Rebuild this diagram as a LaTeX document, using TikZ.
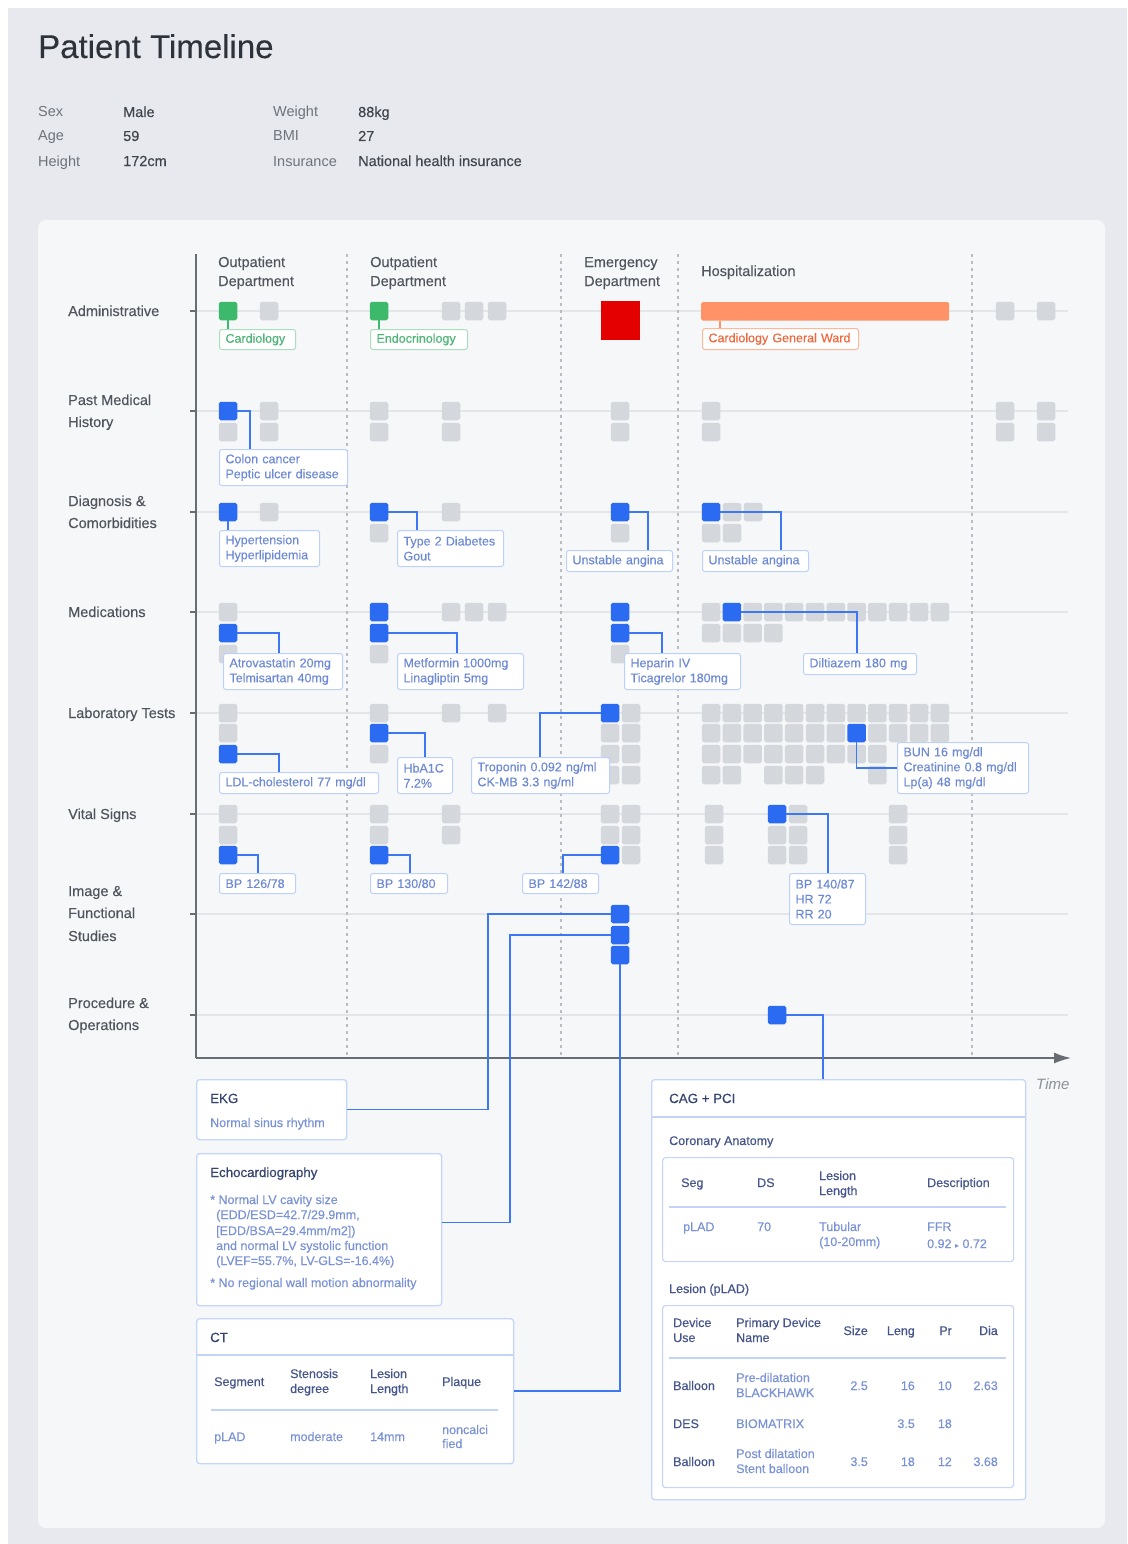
\documentclass[tikz,border=0pt]{standalone}
\usepackage{fontspec}
\setmainfont{Liberation Sans}
\newfontfamily\dejavu{DejaVu Sans}
\newfontfamily\medfont[FakeBold=0.45]{Liberation Sans}
\newfontfamily\semifont[FakeBold=0.25]{Liberation Sans}
\usetikzlibrary{arrows.meta}
\definecolor{outerbg}{HTML}{E8E9EE}
\definecolor{panelbg}{HTML}{F6F7F9}
\definecolor{titlec}{HTML}{2E333B}
\definecolor{demol}{HTML}{6E737B}
\definecolor{demov}{HTML}{40454D}
\definecolor{rowc}{HTML}{50555D}
\definecolor{gridc}{HTML}{E3E5E9}
\definecolor{dashc}{HTML}{B9BCC2}
\definecolor{axisc}{HTML}{686C73}
\definecolor{graysq}{HTML}{D4D7DC}
\definecolor{bluesq}{HTML}{2A6BF2}
\definecolor{connc}{HTML}{3D77F2}
\definecolor{lbltext}{HTML}{6E89D6}
\definecolor{lblborder}{HTML}{BCD0FB}
\definecolor{greensq}{HTML}{3CB96B}
\definecolor{greentext}{HTML}{4DB476}
\definecolor{greenborder}{HTML}{A9DEBE}
\definecolor{redsq}{HTML}{E50000}
\definecolor{orangebar}{HTML}{FF9367}
\definecolor{orangetext}{HTML}{F0683E}
\definecolor{orangeborder}{HTML}{FFB797}
\definecolor{cardborder}{HTML}{C5D5FA}
\definecolor{navyc}{HTML}{36456F}
\definecolor{headc}{HTML}{46568C}
\definecolor{valc}{HTML}{7A92D6}
\definecolor{sepc}{HTML}{C3D3F8}
\definecolor{timec}{HTML}{8B8F96}

\newcommand{\fs}[2]{\fontsize{#1}{#2}\selectfont}

\tikzset{
  txt/.style={anchor=base west, inner sep=0pt},
  rowlab/.style={font=\semifont\fs{14.5}{17}, text=rowc},
  demolab/.style={font=\fs{14.5}{17}, text=demol},
  demoval/.style={font=\semifont\fs{14.5}{17}, text=demov},
  cardtitle/.style={font=\medfont\fs{13.3}{16}, text=navyc},
  head/.style={font=\medfont\fs{12.5}{15}, text=headc},
  val/.style={font=\semifont\fs{12.5}{15}, text=valc},
  bsq/.style={fill=bluesq, minimum size=18.5pt, inner sep=0pt, rounded corners=1.8pt},
  gsqn/.style={fill=greensq, minimum size=18.5pt, inner sep=0pt, rounded corners=1.8pt},
  conn/.style={draw=connc, line width=1.6pt},
  lbl/.style={draw=lblborder, fill=white, line width=1pt, rounded corners=2.5pt, text=lbltext,
    font=\semifont\fs{12.5}{15}, align=left, inner xsep=6pt, inner ysep=0pt, anchor=north west},
  card/.style={draw=cardborder, fill=white, line width=1.3pt, rounded corners=3pt,
    anchor=north west, inner sep=0pt},
  sepline/.style={draw=sepc, line width=1.2pt},
}

\newcommand{\T}[5][]{\node[txt,#1] (#2) at (#3,#4) {#5};}
\newcommand{\lb}[7][]{\pgfmathsetmacro\lbw{#5-12}\node[lbl,#1,text width=\lbw pt, minimum height=#6pt] (#2) at (#3,#4) {#7};}
\newcommand{\gs}[2]{\fill[graysq, rounded corners=1.8pt] ({#1-9.25},{#2-9.25}) rectangle ++(18.5,18.5);}

\begin{document}
\begin{tikzpicture}[x=1pt,y=-1pt]
\useasboundingbox (0,0) rectangle (1127,1544);
\fill[white] (0,0) rectangle (1127,1544);
\fill[outerbg] (8,8) rectangle (1127,1544);
\fill[panelbg, rounded corners=8pt] (38,220) rectangle (1105,1528);

% header
\T[font=\semifont\fs{33}{38}, text=titlec]{title}{38}{58}{Patient Timeline}
\T[demolab]{dSex}{38}{117}{Sex}
\T[demolab]{dAge}{38}{141}{Age}
\T[demolab]{dHeight}{38}{166}{Height}
\T[demoval]{vSex}{123}{117}{Male}
\T[demoval]{vAge}{123}{141}{59}
\T[demoval]{vHeight}{123}{166}{172cm}
\T[demolab]{dWeight}{273}{117}{Weight}
\T[demolab]{dBMI}{273}{141}{BMI}
\T[demolab]{dIns}{273}{166}{Insurance}
\T[demoval]{vWeight}{358}{117}{88kg}
\T[demoval]{vBMI}{358}{141}{27}
\T[demoval]{vIns}{358}{166}{National health insurance}

% grid
\foreach \y in {311,411,512,612,713,814,914,1015} {
  \draw[gridc, line width=1.2pt] (196,\y) -- (1068,\y);
  \draw[axisc, line width=1.2pt] (190,\y) -- (196,\y);
}
\foreach \x in {347,561,678,972}
  \draw[dashc, line width=1.2pt, dash pattern=on 3pt off 4pt] (\x,254) -- (\x,1055);
\draw[axisc, line width=1.5pt] (196,254) -- (196,1058);
\draw[axisc, line width=1.5pt, -{Latex[length=17pt,width=11pt]}] (196,1058) -- (1071,1058);
\node[txt, font=\fs{15}{18}\itshape, text=timec] (timeL) at (1036,1089) {Time};

% row labels
\T[rowlab]{rAdm}{68}{316}{Administrative}
\T[rowlab]{rPmh1}{68}{405}{Past Medical}
\T[rowlab]{rPmh2}{68}{427}{History}
\T[rowlab]{rDx1}{68}{506}{Diagnosis \&}
\T[rowlab]{rDx2}{68}{528}{Comorbidities}
\T[rowlab]{rMed}{68}{617}{Medications}
\T[rowlab]{rLab}{68}{718}{Laboratory Tests}
\T[rowlab]{rVs}{68}{819}{Vital Signs}
\T[rowlab]{rImg1}{68}{896}{Image \&}
\T[rowlab]{rImg2}{68}{918}{Functional}
\T[rowlab]{rImg3}{68}{941}{Studies}
\T[rowlab]{rProc1}{68}{1008}{Procedure \&}
\T[rowlab]{rProc2}{68}{1030}{Operations}

% column headers
\T[rowlab]{c1a}{218}{267}{Outpatient}
\T[rowlab]{c1b}{218}{286}{Department}
\T[rowlab]{c2a}{370}{267}{Outpatient}
\T[rowlab]{c2b}{370}{286}{Department}
\T[rowlab]{c3a}{584}{267}{Emergency}
\T[rowlab]{c3b}{584}{286}{Department}
\T[rowlab]{c4}{701}{276}{Hospitalization}

% gray squares
\foreach \a/\b in {269/311,451/311,474/311,497/311,1005/311,1046/311,
  228/432,269/411,269/432,379/411,379/432,451/411,451/432,620/411,620/432,711/411,711/432,
  1005/411,1005/432,1046/411,1046/432,
  269/512,379/533,451/512,620/533,732/512,753/512,711/533,732/533,
  228/612,228/654,379/654,451/612,474/612,497/612,620/654,
  228/713,228/733,379/713,379/754,451/713,497/713,631/713,610/733,631/733,610/754,631/754,610/775,631/775,
  228/814,228/835,379/814,379/835,451/814,451/835,610/814,631/814,610/835,631/835,631/855,
  714/814,714/835,714/855,798/814,777/835,798/835,777/855,798/855,898/814,898/835,898/855}
  {\gs{\a}{\b}}
\foreach \i in {0,2,3,4,5,6,7,8,9,10,11} {\gs{711+20.8*\i}{612}}
\foreach \i in {0,1,2,3} {\gs{711+20.8*\i}{633}}
\foreach \i in {0,...,11} {\gs{711+20.8*\i}{713}}
\foreach \i in {0,1,2,3,4,5,6,8,9,10,11} {\gs{711+20.8*\i}{733}}
\foreach \i in {0,...,8} {\gs{711+20.8*\i}{754}}
\foreach \i in {0,1,3,4,5,8} {\gs{711+20.8*\i}{775}}

% administrative
\node[gsqn] (gA1) at (228,311) {};
\node[gsqn] (gA2) at (379,311) {};
\node[fill=redsq, minimum size=39pt, inner sep=0pt] (edR) at (620.5,320.5) {};
\node[fill=orangebar, minimum width=248pt, minimum height=18.5pt, inner sep=0pt, anchor=north west, rounded corners=1.5pt] (hbar) at (701,302) {};
\lb[draw=greenborder, text=greentext]{cardio}{219}{329}{76}{20}{Cardiology}
\lb[draw=greenborder, text=greentext]{endo}{370}{329}{97}{20}{Endocrinology}
\lb[draw=orangeborder, text=orangetext]{ward}{702}{328}{156}{21}{Cardiology General Ward}
\draw[greensq, line width=1.6pt] (gA1.south) -- (gA1.south |- cardio.north);
\draw[greensq, line width=1.6pt] (gA2.south) -- (gA2.south |- endo.north);
\draw[orangebar, line width=1.6pt] ([xshift=19pt]hbar.south west) -- ([xshift=18pt]ward.north west);

% blue squares
\node[bsq] (pmhB) at (228,411) {};
\node[bsq] (dxB1) at (228,512) {};
\node[bsq] (dxB2) at (379,512) {};
\node[bsq] (dxB3) at (620,512) {};
\node[bsq] (dxB4) at (711,512) {};
\node[bsq] (medB1) at (228,633) {};
\node[bsq] (medB2) at (379,612) {};
\node[bsq] (medB3) at (379,633) {};
\node[bsq] (medB4) at (620,612) {};
\node[bsq] (medB5) at (620,633) {};
\node[bsq] (medB6) at (731.8,612) {};
\node[bsq] (labB1) at (228,754) {};
\node[bsq] (labB2) at (379,733) {};
\node[bsq] (labB3) at (610,713) {};
\node[bsq] (labB4) at (856.6,733) {};
\node[bsq] (vsB1) at (228,855) {};
\node[bsq] (vsB2) at (379,855) {};
\node[bsq] (vsB3) at (610,855) {};
\node[bsq] (vsB4) at (777,814) {};
\node[bsq] (img1) at (620,914) {};
\node[bsq] (img2) at (620,935) {};
\node[bsq] (img3) at (620,955) {};
\node[bsq] (proc) at (777,1015) {};

% labels
\lb{pmh1}{219}{449}{128}{36}{Colon cancer\\Peptic ulcer disease}
\lb{dx1}{219}{530}{100}{36}{Hypertension\\Hyperlipidemia}
\lb{dx2}{397}{530}{106}{36}{Type 2 Diabetes\\Gout}
\lb{dx3}{566}{550}{106}{21}{Unstable angina}
\lb{dx4}{702}{550}{106}{21}{Unstable angina}
\lb{med1}{223}{653}{119}{36}{Atrovastatin 20mg\\Telmisartan 40mg}
\lb{med2}{397}{653}{126}{36}{Metformin 1000mg\\Linagliptin 5mg}
\lb{med3}{624}{653}{116}{36}{Heparin IV\\Ticagrelor 180mg}
\lb{med4}{803}{653}{113}{21}{Diltiazem 180 mg}
\lb{lab1}{219}{772}{159}{21}{LDL-cholesterol 77 mg/dl}
\lb{lab2}{397}{757}{55}{36}{HbA1C\\7.2\%}
\lb{lab3}{471}{757}{138}{36}{Troponin 0.092 ng/ml\\CK-MB 3.3 ng/ml}
\lb{lab4}{897}{742}{131}{51}{BUN 16 mg/dl\\Creatinine 0.8 mg/dl\\Lp(a) 48 mg/dl}
\lb{vs1}{219}{873}{76}{20}{BP 126/78}
\lb{vs2}{370}{873}{77}{20}{BP 130/80}
\lb{vs3}{522}{873}{76}{20}{BP 142/88}
\lb{vs4}{789}{873}{76}{51}{BP 140/87\\HR 72\\RR 20}

% connectors to labels
\draw[conn] (pmhB.east) -| ([xshift=31pt]pmh1.north west);
\draw[conn] (dxB1.south) -- (dxB1.south |- dx1.north);
\draw[conn] (dxB2.east) -| ([xshift=20pt]dx2.north west);
\draw[conn] (dxB3.east) -| ([xshift=82pt]dx3.north west);
\draw[conn] (dxB4.east) -| ([xshift=79pt]dx4.north west);
\draw[conn] (medB1.east) -| ([xshift=56pt]med1.north west);
\draw[conn] (medB3.east) -| ([xshift=60pt]med2.north west);
\draw[conn] (medB5.east) -| ([xshift=38pt]med3.north west);
\draw[conn] (medB6.east) -| ([xshift=54pt]med4.north west);
\draw[conn] (labB1.east) -| ([xshift=60pt]lab1.north west);
\draw[conn] (labB2.east) -| ([xshift=28pt]lab2.north west);
\draw[conn] (labB3.west) -| ([xshift=69pt]lab3.north west);
\draw[conn] (labB4.south) |- (lab4.west);
\draw[conn] (vsB1.east) -| ([xshift=39pt]vs1.north west);
\draw[conn] (vsB2.east) -| ([xshift=40pt]vs2.north west);
\draw[conn] (vsB3.west) -| ([xshift=41pt]vs3.north west);
\draw[conn] (vsB4.east) -| ([xshift=39pt]vs4.north west);

% cards
\node[card, minimum width=150pt, minimum height=60pt] (ekg) at (196,1079) {};
\node[card, minimum width=245pt, minimum height=152pt] (echo) at (196,1153) {};
\node[card, minimum width=317pt, minimum height=145pt] (ct) at (196,1318) {};
\node[card, minimum width=374pt, minimum height=420pt] (cag) at (651,1079) {};

\draw[conn] (img1.west) -- (488,914) |- (ekg.east);
\draw[conn] (img2.west) -- (510,935) |- ([yshift=7pt]echo.east);
\draw[conn] (img3.south) |- (ct.east);
\draw[conn] (proc.east) -| ([xshift=172pt]cag.north west);

% EKG
\T[cardtitle]{ekgT}{210}{1103}{EKG}
\T[val]{ekgV}{210}{1127}{Normal sinus rhythm}

% Echo
\T[cardtitle]{echoT}{210}{1177}{Echocardiography}
\T[val]{echo1}{210}{1204}{* Normal LV cavity size}
\T[val]{echo2}{216}{1219}{(EDD/ESD=42.7/29.9mm,}
\T[val]{echo3}{216}{1235}{[EDD/BSA=29.4mm/m2])}
\T[val]{echo4}{216}{1250}{and normal LV systolic function}
\T[val]{echo5}{216}{1265}{(LVEF=55.7\%, LV-GLS=-16.4\%)}
\T[val]{echo6}{210}{1287}{* No regional wall motion abnormality}

% CT
\T[cardtitle]{ctT}{210}{1342}{CT}
\draw[sepline] (ct.west |- 0,1355) -- (ct.east |- 0,1355);
\T[head]{ctH1}{214}{1386}{Segment}
\T[head]{ctH2a}{290}{1378}{Stenosis}
\T[head]{ctH2b}{290}{1393}{degree}
\T[head]{ctH3a}{370}{1378}{Lesion}
\T[head]{ctH3b}{370}{1393}{Length}
\T[head]{ctH4}{442}{1386}{Plaque}
\draw[sepline] (211,1410) -- (498,1410);
\T[val]{ctV1}{214}{1441}{pLAD}
\T[val]{ctV2}{290}{1441}{moderate}
\T[val]{ctV3}{370}{1441}{14mm}
\T[val]{ctV4a}{442}{1434}{noncalci}
\T[val]{ctV4b}{442}{1448}{fied}

% CAG + PCI
\T[cardtitle]{cagT}{669}{1103}{CAG + PCI}
\draw[sepline] (cag.west |- 0,1117) -- (cag.east |- 0,1117);
\T[head]{coT}{669}{1145}{Coronary Anatomy}
\node[card, line width=1.2pt, minimum width=351pt, minimum height=104pt] (coron) at (662,1157) {};
\T[head]{coH1}{681}{1187}{Seg}
\T[head]{coH2}{757}{1187}{DS}
\T[head]{coH3a}{819}{1180}{Lesion}
\T[head]{coH3b}{819}{1195}{Length}
\T[head]{coH4}{927}{1187}{Description}
\draw[sepline] (669,1207) -- (1006,1207);
\T[val]{coV1}{683}{1231}{pLAD}
\T[val]{coV2}{757}{1231}{70}
\T[val]{coV3a}{819}{1231}{Tubular}
\T[val]{coV3b}{819}{1246}{(10-20mm)}
\T[val]{coV4a}{927}{1231}{FFR}
\T[val]{coV4b}{927}{1248}{0.92 {\dejavu\fs{8}{10}▸} 0.72}

\T[head]{leT}{669}{1293}{Lesion (pLAD)}
\node[card, line width=1.2pt, minimum width=351pt, minimum height=182pt] (lesion) at (662,1305) {};
\T[head]{leH1a}{673}{1327}{Device}
\T[head]{leH1b}{673}{1342}{Use}
\T[head]{leH2a}{736}{1327}{Primary Device}
\T[head]{leH2b}{736}{1342}{Name}
\T[head, anchor=base east]{leH3}{868}{1335}{Size}
\T[head, anchor=base east]{leH4}{915}{1335}{Leng}
\T[head, anchor=base east]{leH5}{952}{1335}{Pr}
\T[head, anchor=base east]{leH6}{998}{1335}{Dia}
\draw[sepline] (669,1358) -- (1006,1358);
\T[head]{r1a}{673}{1390}{Balloon}
\T[val]{r1b1}{736}{1382}{Pre-dilatation}
\T[val]{r1b2}{736}{1397}{BLACKHAWK}
\T[val, anchor=base east]{r1c}{868}{1390}{2.5}
\T[val, anchor=base east]{r1d}{915}{1390}{16}
\T[val, anchor=base east]{r1e}{952}{1390}{10}
\T[val, anchor=base east]{r1f}{998}{1390}{2.63}
\T[head]{r2a}{673}{1428}{DES}
\T[val]{r2b}{736}{1428}{BIOMATRIX}
\T[val, anchor=base east]{r2d}{915}{1428}{3.5}
\T[val, anchor=base east]{r2e}{952}{1428}{18}
\T[head]{r3a}{673}{1466}{Balloon}
\T[val]{r3b1}{736}{1458}{Post dilatation}
\T[val]{r3b2}{736}{1473}{Stent balloon}
\T[val, anchor=base east]{r3c}{868}{1466}{3.5}
\T[val, anchor=base east]{r3d}{915}{1466}{18}
\T[val, anchor=base east]{r3e}{952}{1466}{12}
\T[val, anchor=base east]{r3f}{998}{1466}{3.68}
\end{tikzpicture}
\end{document}
